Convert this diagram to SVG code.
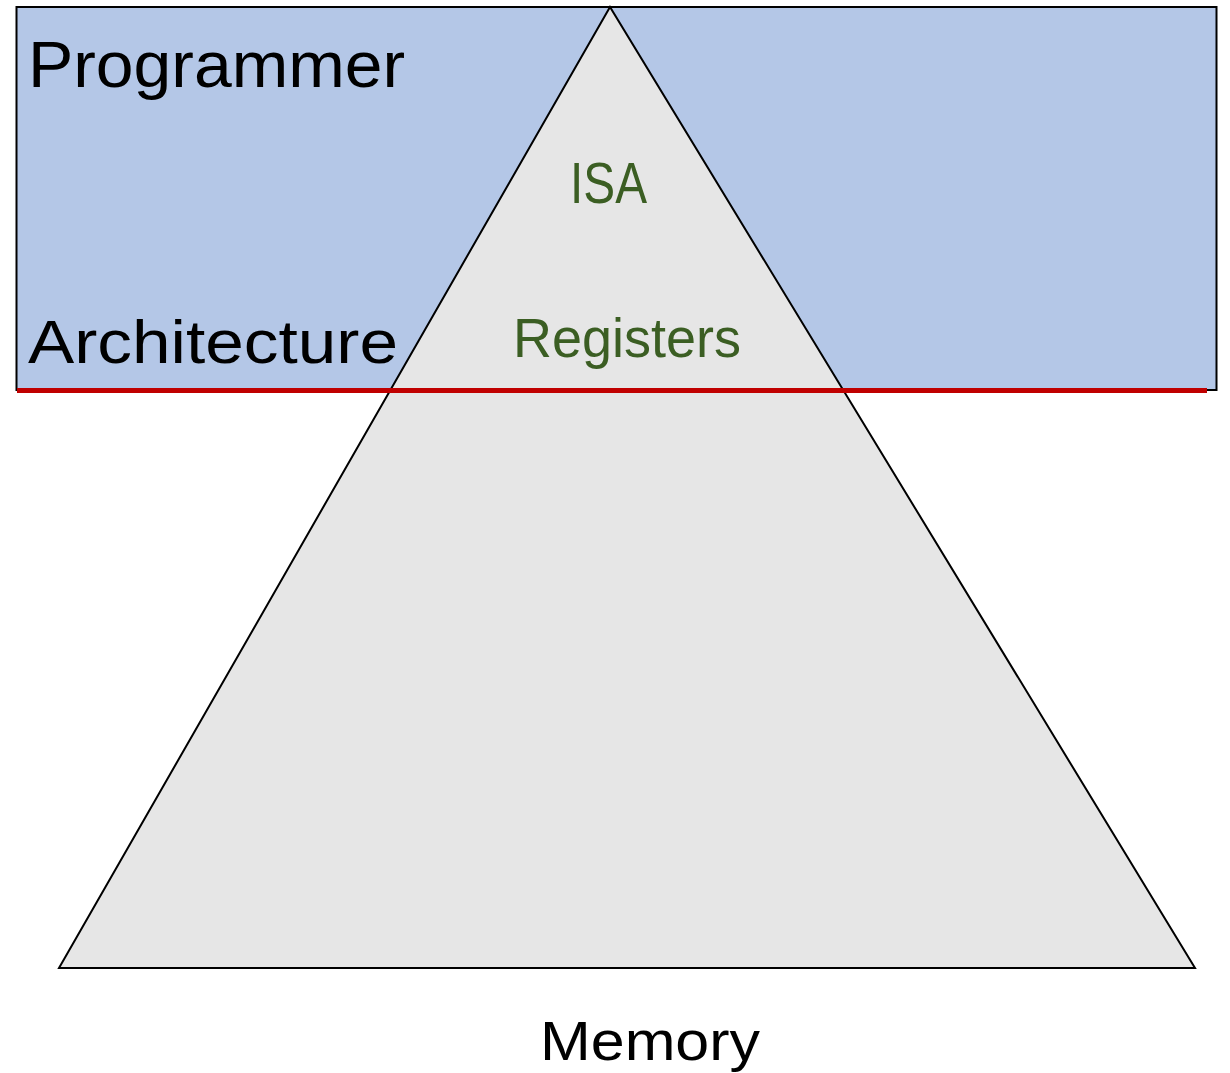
<svg xmlns="http://www.w3.org/2000/svg" width="1230" height="1073" viewBox="0 0 1230 1073">
<style>
.lbl{font-family:"Liberation Sans",Arial,sans-serif;fill:#000}
.grn{font-family:"Liberation Sans",Arial,sans-serif;fill:#3b5e23}
</style>
<rect x="0" y="0" width="1230" height="1073" fill="#ffffff"/>
<g id="programmer-box">
<rect x="16.5" y="7" width="1200" height="383" fill="#b4c7e7" stroke="#000" stroke-width="2"/>
<text class="lbl" x="28" y="87" font-size="64" textLength="377" lengthAdjust="spacingAndGlyphs">Programmer</text>
<text class="lbl" x="28" y="363" font-size="62" textLength="370" lengthAdjust="spacingAndGlyphs">Architecture</text>
</g>
<g id="pyramid">
<polygon points="610,7 59,968 1195,968" fill="#e6e6e6" stroke="#000" stroke-width="2" stroke-linejoin="miter"/>
<text class="grn" x="570" y="203" font-size="57" textLength="77" lengthAdjust="spacingAndGlyphs">ISA</text>
<text class="grn" x="513" y="357" font-size="56" textLength="228" lengthAdjust="spacingAndGlyphs">Registers</text>
</g>
<g id="connectors">
<line x1="17" y1="390.5" x2="1207" y2="390.5" stroke="#c00000" stroke-width="5"/>
</g>
<g id="memory">
<text class="lbl" x="540" y="1060" font-size="56" textLength="220" lengthAdjust="spacingAndGlyphs">Memory</text>
</g>
</svg>
